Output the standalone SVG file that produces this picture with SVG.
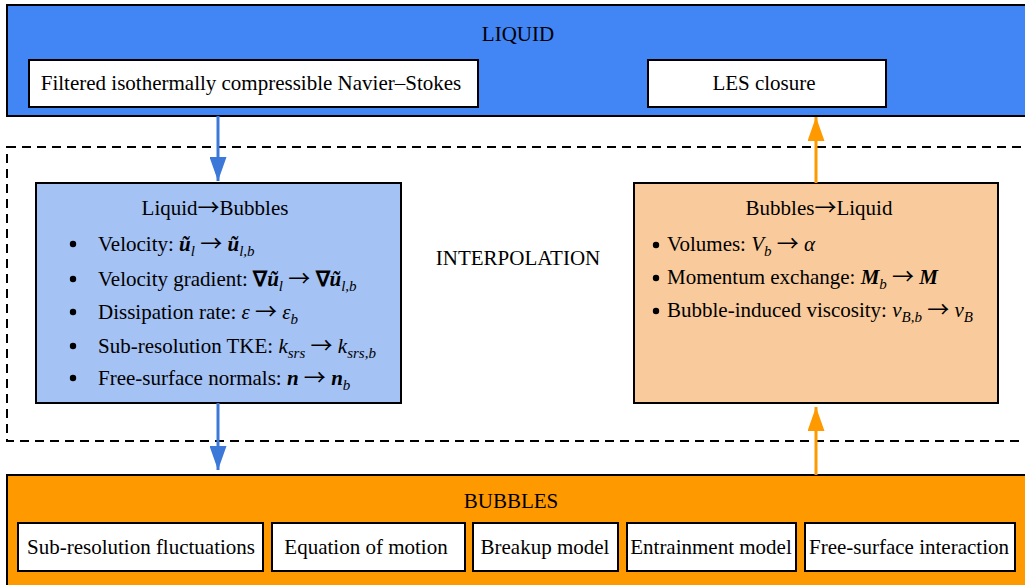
<svg xmlns="http://www.w3.org/2000/svg" width="1025" height="585" viewBox="0 0 1025 585" font-family="'Liberation Serif', 'Times New Roman', Times, serif">
<defs>
<style>
text{font-family:'Liberation Serif','Times New Roman',Times,serif;font-size:21px;fill:#000}
.c{text-anchor:middle}
.box{stroke:#000;stroke-width:2}
.w{fill:#fff;stroke:#000;stroke-width:2}
.bi{font-weight:bold;font-style:italic}
.b{font-weight:bold}
.i{font-style:italic}
.s{font-size:15px;font-style:italic}
.ar{font-family:'Noto Sans CJK SC','DejaVu Sans',sans-serif;font-size:22px;font-weight:normal;font-style:normal}
</style>
<marker id="ab" markerUnits="userSpaceOnUse" markerWidth="24" markerHeight="17" refX="24" refY="8.5" orient="auto"><path d="M0,0 L24,8.5 L0,17 z" fill="#3c78d8"/></marker>
<marker id="ao" markerUnits="userSpaceOnUse" markerWidth="24" markerHeight="17" refX="24" refY="8.5" orient="auto"><path d="M0,0 L24,8.5 L0,17 z" fill="#ff9900"/></marker>
</defs>
<rect width="1025" height="585" fill="#fff"/>

<g id="liquid">
<rect class="box" x="7" y="5" width="1030" height="111" fill="#4285f4"/>
<text class="c" x="518" y="41">LIQUID</text>
</g>
<g id="navier-stokes">
<rect class="w" x="29" y="60" width="449" height="47"/>
<text class="c" x="251" y="90">Filtered isothermally compressible Navier–Stokes</text>
</g>
<g id="les-closure">
<rect class="w" x="648" y="60" width="238" height="47"/>
<text class="c" x="764" y="90">LES closure</text>
</g>

<g id="interpolation">
<rect x="7" y="147" width="1019" height="294" fill="none" stroke="#000" stroke-width="2" stroke-dasharray="9,6"/>
<text class="c" x="518" y="265">INTERPOLATION</text>
</g>

<g id="liquid-to-bubbles">
<rect class="box" x="36" y="183" width="365" height="220" fill="#a4c2f4"/>
<text class="c" x="215" y="215">Liquid<tspan class="ar">→</tspan>Bubbles</text>
<g fill="#000"><circle cx="73" cy="244" r="3.2"/><circle cx="73" cy="279" r="3.2"/><circle cx="73" cy="312" r="3.2"/><circle cx="73" cy="346" r="3.2"/><circle cx="73" cy="378" r="3.2"/></g>
<text x="98" y="251">Velocity: <tspan class="bi">ũ</tspan><tspan class="s" dy="5">l</tspan><tspan dy="-5"> </tspan><tspan class="ar">→</tspan> <tspan class="bi">ũ</tspan><tspan class="s" dy="5">l,b</tspan></text>
<text x="98" y="286">Velocity gradient: <tspan class="b">∇</tspan><tspan class="bi">ũ</tspan><tspan class="s" dy="5">l</tspan><tspan dy="-5"> </tspan><tspan class="ar">→</tspan> <tspan class="b">∇</tspan><tspan class="bi">ũ</tspan><tspan class="s" dy="5">l,b</tspan></text>
<text x="98" y="319">Dissipation rate: <tspan class="i">ε</tspan> <tspan class="ar">→</tspan> <tspan class="i">ε</tspan><tspan class="s" dy="5">b</tspan></text>
<text x="98" y="353">Sub-resolution TKE: <tspan class="i">k</tspan><tspan class="s" dy="5">srs</tspan><tspan dy="-5"> </tspan><tspan class="ar">→</tspan> <tspan class="i">k</tspan><tspan class="s" dy="5">srs,b</tspan></text>
<text x="98" y="385">Free-surface normals: <tspan class="bi">n</tspan> <tspan class="ar">→</tspan> <tspan class="bi">n</tspan><tspan class="s" dy="5">b</tspan></text>
</g>

<g id="bubbles-to-liquid">
<rect class="box" x="634" y="183" width="364" height="220" fill="#f9cb9c"/>
<text class="c" x="819" y="215">Bubbles<tspan class="ar">→</tspan>Liquid</text>
<g fill="#000"><circle cx="656" cy="245" r="3.2"/><circle cx="656" cy="278" r="3.2"/><circle cx="656" cy="311" r="3.2"/></g>
<text x="667" y="251">Volumes: <tspan class="i">V</tspan><tspan class="s" dy="5">b</tspan><tspan dy="-5"> </tspan><tspan class="ar">→</tspan> <tspan class="i">α</tspan></text>
<text x="667" y="284">Momentum exchange: <tspan class="bi">M</tspan><tspan class="s" dy="5">b</tspan><tspan dy="-5"> </tspan><tspan class="ar">→</tspan> <tspan class="bi">M</tspan></text>
<text x="667" y="317">Bubble-induced viscosity: <tspan class="i">ν</tspan><tspan class="s" dy="5">B,b</tspan><tspan dy="-5"> </tspan><tspan class="ar">→</tspan> <tspan class="i">ν</tspan><tspan class="s" dy="5">B</tspan></text>
</g>

<g id="bubbles">
<rect class="box" x="7" y="475" width="1030" height="120" fill="#ff9900"/>
<text class="c" x="511" y="508">BUBBLES</text>
</g>
<g id="sub-resolution"><rect class="w" x="18" y="523" width="245" height="48"/><text class="c" x="141" y="554">Sub-resolution fluctuations</text></g>
<g id="equation-of-motion"><rect class="w" x="272" y="523" width="193" height="48"/><text class="c" x="366" y="554">Equation of motion</text></g>
<g id="breakup"><rect class="w" x="473" y="523" width="145" height="48"/><text class="c" x="545" y="554">Breakup model</text></g>
<g id="entrainment"><rect class="w" x="627" y="523" width="169" height="48"/><text class="c" x="711" y="554">Entrainment model</text></g>
<g id="free-surface"><rect class="w" x="805" y="523" width="210" height="48"/><text class="c" x="909" y="554">Free-surface interaction</text></g>

<g id="connectors" stroke-width="3" fill="none">
<line x1="218" y1="116" x2="218" y2="181" stroke="#3c78d8" marker-end="url(#ab)"/>
<line x1="218" y1="403" x2="218" y2="470" stroke="#3c78d8" marker-end="url(#ab)"/>
<line x1="816" y1="475" x2="816" y2="407" stroke="#ff9900" marker-end="url(#ao)"/>
<line x1="816" y1="183" x2="816" y2="117" stroke="#ff9900" marker-end="url(#ao)"/>
</g>
</svg>
